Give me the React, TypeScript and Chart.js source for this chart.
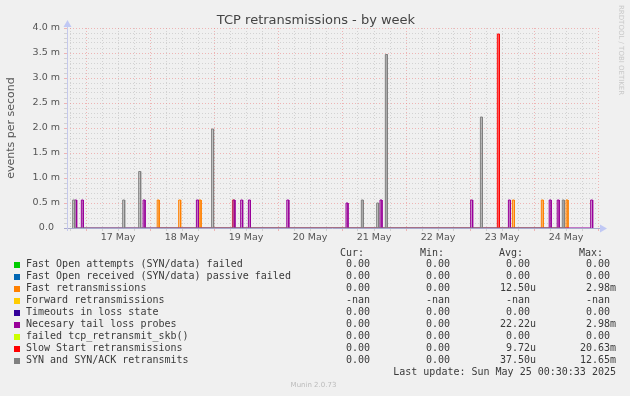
import React, { useEffect, useRef } from 'react';
import { Chart, registerables } from 'chart.js';

Chart.register(...registerables);

// ---- data (time in hours since 17 May 00:00, values in milli-events/second) ----
const seriesLabels = [
  'Fast Open attempts (SYN/data) failed',
  'Fast Open received (SYN/data) passive failed',
  'Fast retransmissions',
  'Forward retransmissions',
  'Timeouts in loss state',
  'Necesary tail loss probes',
  'failed tcp_retransmit_skb()',
  'Slow Start retransmissions',
  'SYN and SYN/ACK retransmits',
];
const seriesColors = [
  '#00CC00', '#0066B3', '#FF8000', '#FFCC00', '#330099',
  '#990099', '#CCFF00', '#FF0000', '#808080',
];

const fastOpenFailedTimes: number[] = [];
const fastOpenFailedValues: number[] = [];
const fastOpenPassiveTimes: number[] = [];
const fastOpenPassiveValues: number[] = [];
const fastRetransTimes = [26.7, 34.75, 42.4, 54.9, 159.9, 170.75, 180.0];
const fastRetransValues = [0.56, 0.56, 0.56, 0.56, 0.56, 0.56, 0.56];
const forwardRetransTimes: number[] = [];
const forwardRetransValues: number[] = [];
const timeoutsTimes: number[] = [];
const timeoutsValues: number[] = [];
const tailProbeTimes = [-4.25, -1.75, 21.4, 41.4, 55.1, 58.0, 60.9, 75.3, 97.5, 110.25, 144.25, 158.4, 173.7, 176.7, 189.25];
const tailProbeValues = [0.56, 0.56, 0.56, 0.56, 0.56, 0.56, 0.56, 0.56, 0.50, 0.56, 0.56, 0.56, 0.56, 0.56, 0.56];
const failedSkbTimes: number[] = [];
const failedSkbValues: number[] = [];
const slowStartTimes = [154.25];
const slowStartValues = [3.88];
const synTimes = [-5.0, 13.75, 19.75, 47.1, 103.25, 109.0, 112.25, 147.9, 178.6];
const synValues = [0.56, 0.56, 1.13, 1.98, 0.56, 0.50, 3.47, 2.22, 0.56];

const seriesTimes = [fastOpenFailedTimes, fastOpenPassiveTimes, fastRetransTimes, forwardRetransTimes, timeoutsTimes, tailProbeTimes, failedSkbTimes, slowStartTimes, synTimes];
const seriesValues = [fastOpenFailedValues, fastOpenPassiveValues, fastRetransValues, forwardRetransValues, timeoutsValues, tailProbeValues, failedSkbValues, slowStartValues, synValues];

const curValues = ['0.00', '0.00', '0.00', '-nan', '0.00', '0.00', '0.00', '0.00', '0.00'];
const minValues = ['0.00', '0.00', '0.00', '-nan', '0.00', '0.00', '0.00', '0.00', '0.00'];
const avgValues = ['0.00 ', '0.00 ', '12.50u', '-nan ', '0.00 ', '22.22u', '0.00 ', '9.72u', '37.50u'];
const maxValues = ['0.00 ', '0.00 ', '2.98m', '-nan ', '0.00 ', '2.98m', '0.00 ', '20.63m', '12.65m'];

const dayLabels = ['17 May', '18 May', '19 May', '20 May', '21 May', '22 May', '23 May', '24 May'];
const yTickLabels = ['0.0  ', '0.5 m', '1.0 m', '1.5 m', '2.0 m', '2.5 m', '3.0 m', '3.5 m', '4.0 m'];

const X_MIN = -7.125;
const X_MAX = 192;
const SPIKE_W = 0.75;

const MAJOR = 'rgba(235,120,120,0.5)';
const MINOR = 'rgba(160,160,160,0.38)';

function buildSeries(times: number[], values: number[]) {
  const pts: { x: number; y: number }[] = [];
  times.forEach((t, i) => {
    pts.push({ x: t, y: 0 }, { x: t, y: values[i] }, { x: t + SPIKE_W, y: values[i] }, { x: t + SPIKE_W, y: 0 });
  });
  return pts;
}

function hexA(hex: string, a: number) {
  const r = parseInt(hex.slice(1, 3), 16);
  const g = parseInt(hex.slice(3, 5), 16);
  const b = parseInt(hex.slice(5, 7), 16);
  return `rgba(${r},${g},${b},${a})`;
}

const axisPlugin = {
  id: 'muninAxes',
  afterDatasetsDraw(chart: any) {
    const { ctx, chartArea } = chart;
    const { left, right, bottom, top } = chartArea;
    ctx.save();
    ctx.lineWidth = 1;
    ctx.strokeStyle = '#A8A8CC';
    ctx.beginPath();
    ctx.moveTo(left - 3, bottom + 0.5);
    ctx.lineTo(right + 3, bottom + 0.5);
    ctx.stroke();
    ctx.strokeStyle = '#C4C8EC';
    ctx.beginPath();
    ctx.moveTo(left + 0.5, bottom + 3);
    ctx.lineTo(left + 0.5, top - 4);
    ctx.stroke();
    ctx.fillStyle = '#C0C8F4';
    ctx.beginPath();
    ctx.moveTo(right + 9, bottom + 0.5);
    ctx.lineTo(right + 2, bottom - 3.5);
    ctx.lineTo(right + 2, bottom + 4.5);
    ctx.closePath();
    ctx.fill();
    ctx.beginPath();
    ctx.moveTo(left + 0.5, top - 8);
    ctx.lineTo(left - 3.5, top - 1);
    ctx.lineTo(left + 4.5, top - 1);
    ctx.closePath();
    ctx.fill();
    ctx.restore();
  },
};

export default function App() {
  const ref = useRef<HTMLCanvasElement>(null);

  useEffect(() => {
    if (!ref.current) return;
    Chart.defaults.font.family = "'DejaVu Sans', sans-serif";
    const n = seriesLabels.length;
    const chart = new Chart(ref.current, {
      type: 'line',
      data: {
        datasets: seriesLabels.map((label, i) => ({
          label,
          data: buildSeries(seriesTimes[i], seriesValues[i]),
          borderColor: seriesColors[i],
          backgroundColor: hexA(seriesColors[i], 0.35),
          borderWidth: 1,
          pointRadius: 0,
          tension: 0,
          fill: 'origin',
          order: n - i,
        })),
      },
      options: {
        animation: false,
        responsive: false,
        devicePixelRatio: 1,
        layout: { padding: { top: 28, right: 32, left: 0, bottom: 0 } },
        plugins: {
          legend: { display: false },
          tooltip: { enabled: false },
        },
        scales: {
          x: {
            type: 'linear',
            min: X_MIN,
            max: X_MAX,
            afterFit: (s: any) => { s.height = 168; },
            ticks: {
              stepSize: 6,
              autoSkip: false,
              includeBounds: false,
              maxRotation: 0,
              minRotation: 0,
              padding: 1,
              color: '#555',
              font: { size: 9.5 },
              callback: (v: any) => {
                const h = Number(v);
                const m = ((h % 24) + 24) % 24;
                if (Math.abs(m - 12) < 1e-6) {
                  return dayLabels[Math.round((h - 12) / 24)] ?? '';
                }
                return '';
              },
            },
            grid: {
              color: (c: any) => {
                const h = c.tick ? c.tick.value : 0;
                return Math.abs(((h % 24) + 24) % 24) < 1e-6 ? MAJOR : MINOR;
              },
              tickColor: (c: any) => {
                const h = c.tick ? c.tick.value : 0;
                return Math.abs(((h % 24) + 24) % 24) < 1e-6 ? MAJOR : MINOR;
              },
              lineWidth: 1,
              tickLength: 3,
            },
            border: { display: false, dash: [1, 2] },
          },
          y: {
            type: 'linear',
            min: 0,
            max: 4,
            afterFit: (s: any) => { s.width = 67; },
            ticks: {
              stepSize: 0.1,
              autoSkip: false,
              padding: 4,
              color: '#555',
              font: { size: 9.5 },
              callback: (v: any) => {
                const d = Number(v) * 2;
                if (Math.abs(d - Math.round(d)) < 1e-6) return yTickLabels[Math.round(d)] ?? '';
                return '';
              },
            },
            grid: {
              color: (c: any) => {
                const d = (c.tick ? c.tick.value : 0) * 2;
                return Math.abs(d - Math.round(d)) < 1e-6 ? MAJOR : MINOR;
              },
              tickColor: (c: any) => {
                const d = (c.tick ? c.tick.value : 0) * 2;
                return Math.abs(d - Math.round(d)) < 1e-6 ? MAJOR : MINOR;
              },
              lineWidth: 1,
              tickLength: 3,
            },
            border: { display: false, dash: [1, 2] },
            title: {
              display: true,
              text: 'events per second',
              color: '#555',
              font: { size: 11 },
              padding: { top: 5, bottom: 0 },
            },
          },
        },
      },
      plugins: [axisPlugin],
    } as any);
    return () => chart.destroy();
  }, []);

  const mono = "'DejaVu Sans Mono', monospace";
  const rowTop = (i: number) => 258 + 12 * i;
  const cell = (text: string, rightEdge: number, top: number, key: string) => (
    <div key={key} style={{ position: 'absolute', right: 630 - rightEdge, top, whiteSpace: 'pre', font: `10px ${mono}`, lineHeight: '12px', color: '#3a3a3a' }}>{text}</div>
  );

  return (
    <div style={{ position: 'absolute', left: 0, top: 0, width: 630, height: 396, background: '#F0F0F0', overflow: 'hidden' }}>
      <canvas ref={ref} width={630} height={396} style={{ position: 'absolute', left: 0, top: 0, width: 630, height: 396 }} />
      <div style={{ position: 'absolute', left: 316, top: 11, transform: 'translateX(-50%)', whiteSpace: 'nowrap', font: "13px 'DejaVu Sans', sans-serif", lineHeight: '17px', color: '#444' }}>
        TCP retransmissions - by week
      </div>
      <div style={{ position: 'absolute', left: 617, top: 5, writingMode: 'vertical-rl', whiteSpace: 'nowrap', font: "7px 'DejaVu Sans', sans-serif", lineHeight: '8px', color: '#c8c8c8' }}>
        RRDTOOL / TOBI OETIKER
      </div>
      {['Cur:', 'Min:', 'Avg:', 'Max:'].map((h, j) => (
        <div key={h} style={{ position: 'absolute', left: [340, 420, 499, 579][j], top: 247, whiteSpace: 'pre', font: `10px ${mono}`, lineHeight: '12px', color: '#3a3a3a' }}>{h}</div>
      ))}
      {seriesLabels.map((label, i) => (
        <React.Fragment key={label}>
          <div style={{ position: 'absolute', left: 14, top: rowTop(i) + 4, width: 6, height: 6, background: seriesColors[i] }} />
          <div style={{ position: 'absolute', left: 26, top: rowTop(i), whiteSpace: 'pre', font: `10px ${mono}`, lineHeight: '12px', color: '#3a3a3a' }}>{label}</div>
          {cell(curValues[i] + ' ', 376, rowTop(i), 'c' + i)}
          {cell(minValues[i] + ' ', 456, rowTop(i), 'n' + i)}
          {cell(avgValues[i], 536, rowTop(i), 'a' + i)}
          {cell(maxValues[i], 616, rowTop(i), 'm' + i)}
        </React.Fragment>
      ))}
      <div style={{ position: 'absolute', right: 14, top: 366, whiteSpace: 'pre', font: `10px ${mono}`, lineHeight: '12px', color: '#3a3a3a' }}>
        Last update: Sun May 25 00:30:33 2025
      </div>
      <div style={{ position: 'absolute', left: 313.5, top: 381, transform: 'translateX(-50%)', whiteSpace: 'nowrap', font: "7px 'DejaVu Sans', sans-serif", lineHeight: '8px', color: '#bbb' }}>
        Munin 2.0.73
      </div>
    </div>
  );
}
